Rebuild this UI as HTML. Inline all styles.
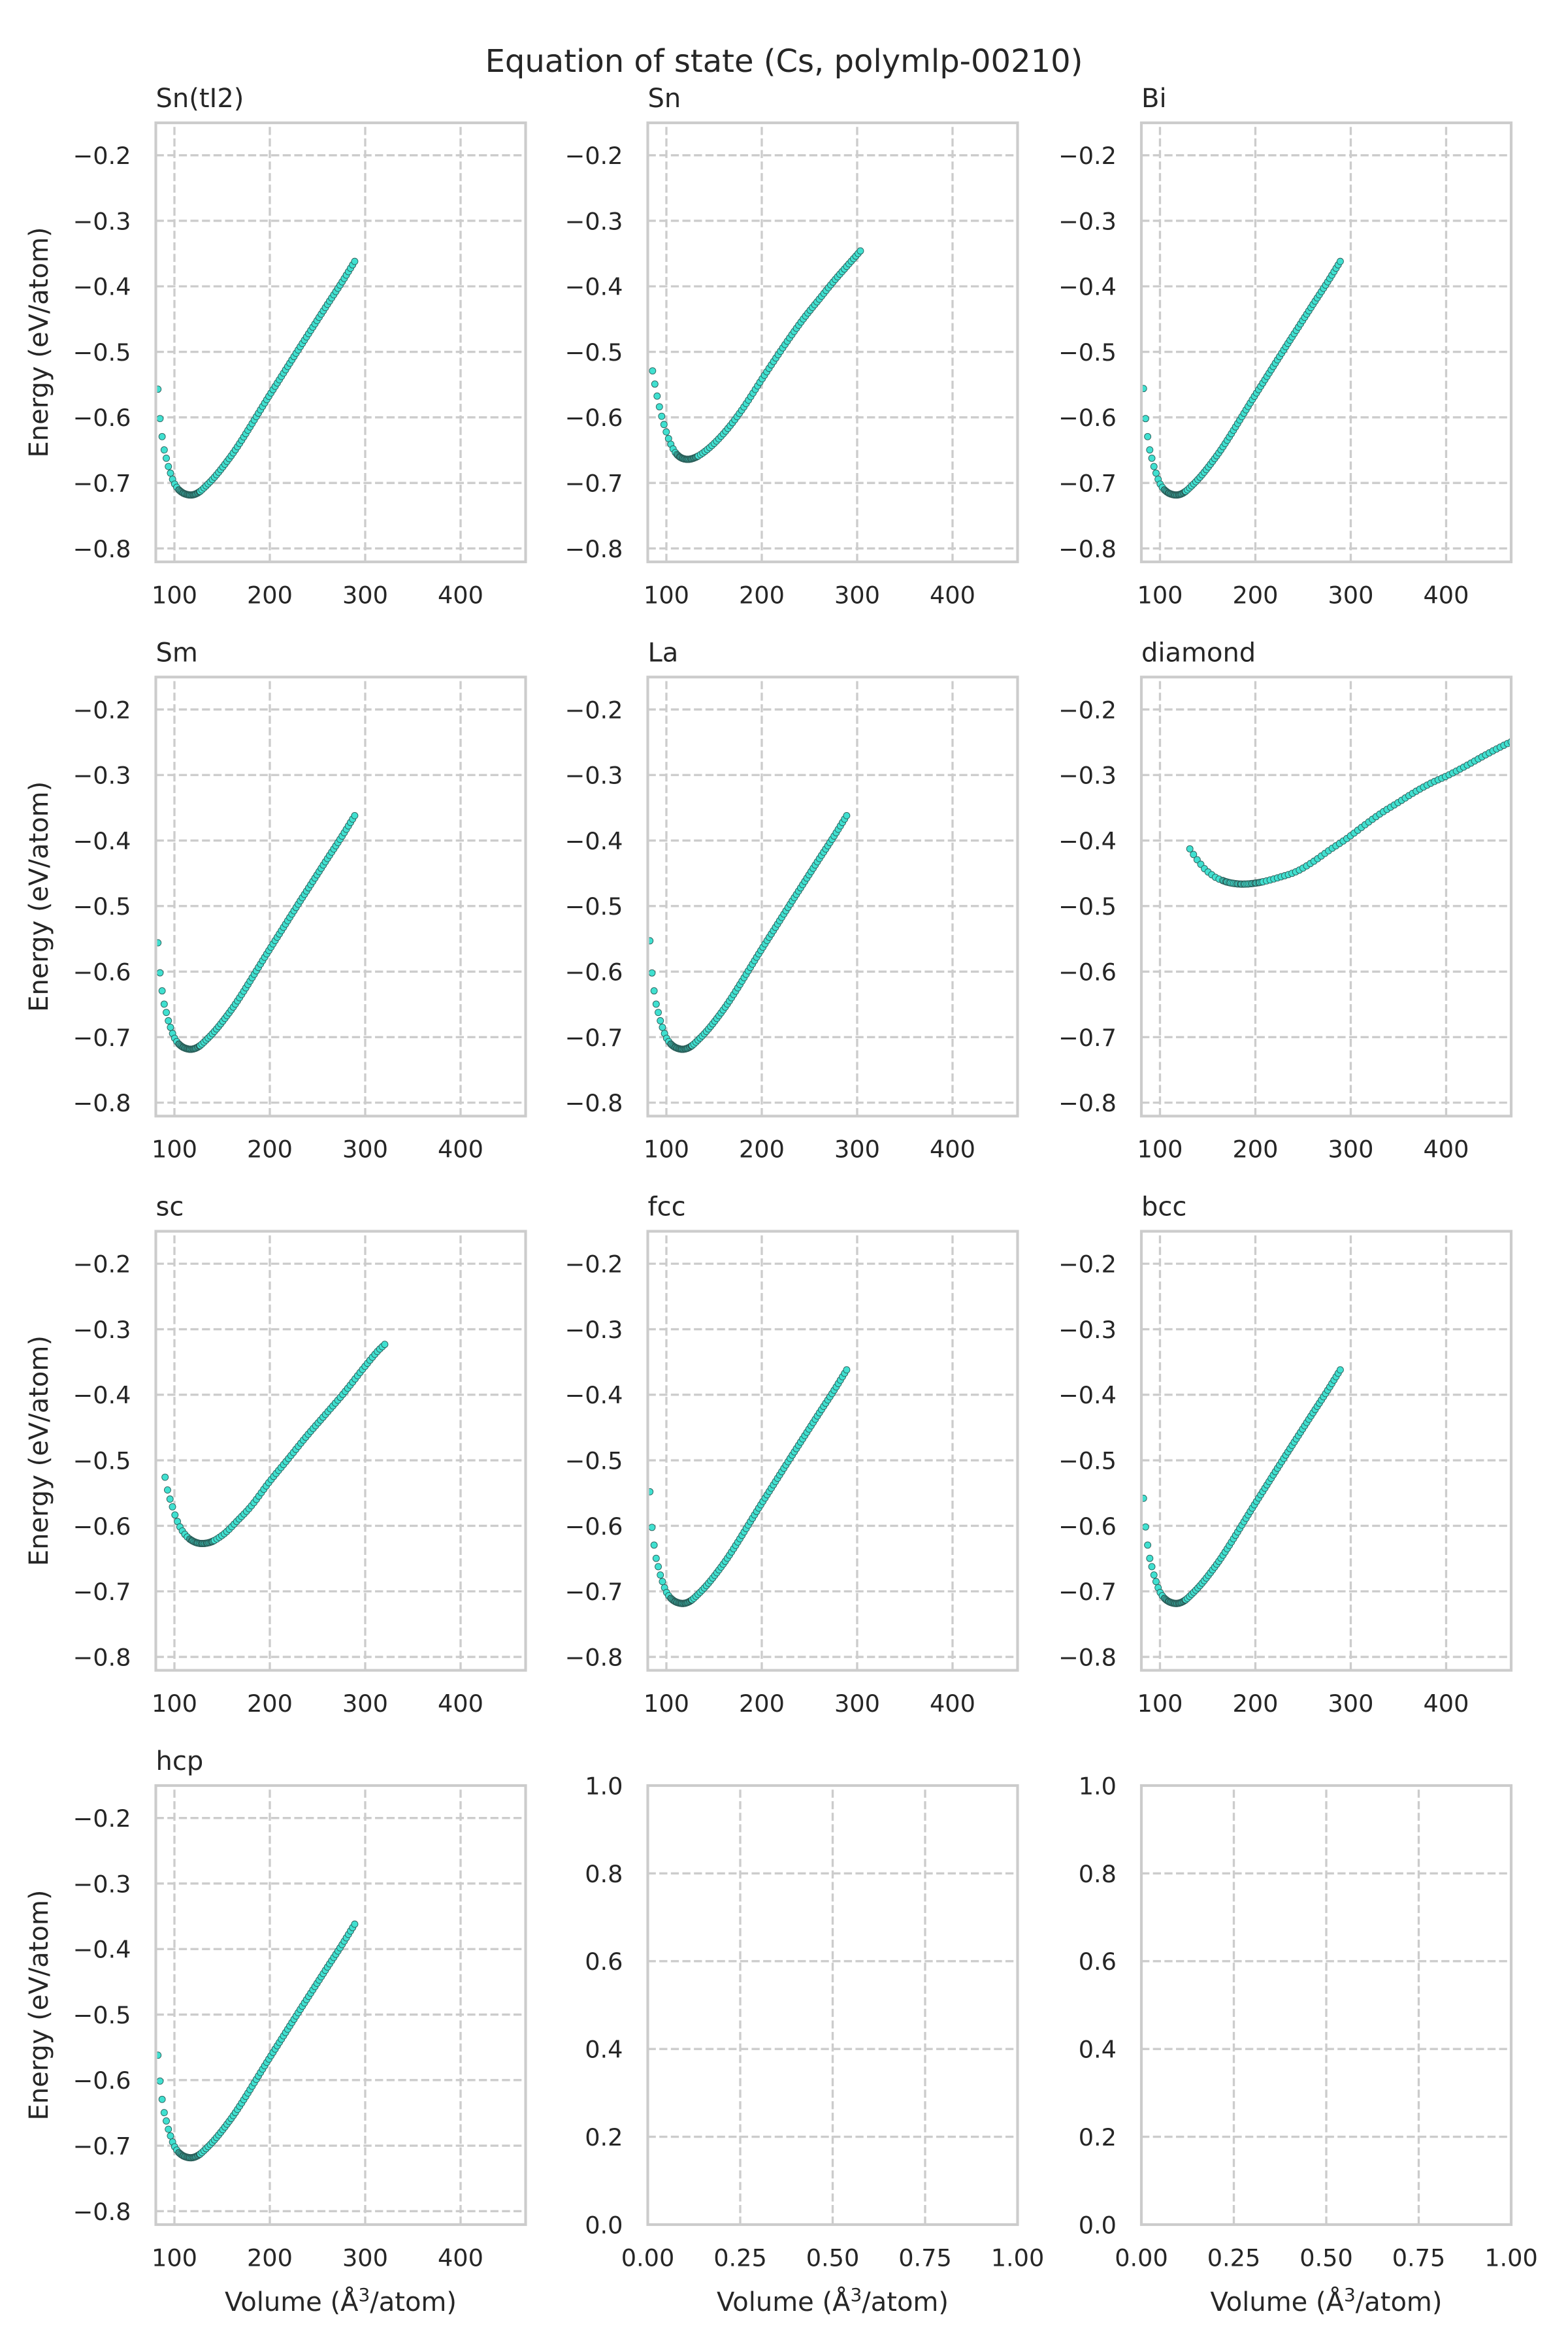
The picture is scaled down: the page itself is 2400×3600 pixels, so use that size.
<!DOCTYPE html>
<html>
<head>
<meta charset="utf-8">
<style>
html,body{margin:0;padding:0;background:#ffffff;}
svg{display:block;}
text{font-family:"DejaVu Sans","Liberation Sans",sans-serif;fill:#262626;}
.tk{font-size:36.67px;}
.lb{font-size:40px;}
.st{font-size:48px;}
.ya text{text-anchor:end;}
.xa text{text-anchor:middle;}
</style>
</head>
<body>
<svg xmlns="http://www.w3.org/2000/svg" xmlns:xlink="http://www.w3.org/1999/xlink" width="2400" height="3600" viewBox="0 0 2400 3600">
<defs>
<clipPath id="clip"><rect x="0" y="0" width="566" height="672"/></clipPath>
<g id="gE" stroke="#cccccc" stroke-width="3.33" stroke-dasharray="12.33 5.33" fill="none">
<path d="M28.47 672V0M174.47 672V0M320.47 672V0M466.47 672V0"/>
<path d="M0 49.65H566M0 149.95H566M0 250.25H566M0 350.55H566M0 450.85H566M0 551.15H566M0 651.45H566"/>
</g>
<g id="gU" stroke="#cccccc" stroke-width="3.33" stroke-dasharray="12.33 5.33" fill="none">
<path d="M141.5 672V0M283 672V0M424.5 672V0"/>
<path d="M0 134.4H566M0 268.8H566M0 403.2H566M0 537.6H566"/>
</g>
</defs>
<rect x="0" y="0" width="2400" height="3600" fill="#ffffff"/>

<text class="st" x="1200" y="110" text-anchor="middle">Equation of state (Cs, polymlp-00210)</text>

<!-- Row 1 -->
<g transform="translate(238.5,188)">
<rect width="566" height="672" fill="#fff"/>
<use xlink:href="#gE"/>
<g id="p1" clip-path="url(#clip)" fill="#40e0d0" stroke="#2a5e59" stroke-width="0.9"></g>
<rect width="566" height="672" fill="none" stroke="#cccccc" stroke-width="4.17"/>
<text class="lb" x="0" y="-24">Sn(tI2)</text>
<g class="tk ya"><text x="-38" y="63">−0.2</text><text x="-38" y="163.3">−0.3</text><text x="-38" y="263.6">−0.4</text><text x="-38" y="363.9">−0.5</text><text x="-38" y="464.2">−0.6</text><text x="-38" y="564.5">−0.7</text><text x="-38" y="664.8">−0.8</text></g>
<g class="tk xa"><text x="28.47" y="735.4">100</text><text x="174.47" y="735.4">200</text><text x="320.47" y="735.4">300</text><text x="466.47" y="735.4">400</text></g>
<text class="lb" transform="translate(-165.5,336) rotate(-90)" text-anchor="middle">Energy (eV/atom)</text>
</g>

<g transform="translate(991.5,188)">
<rect width="566" height="672" fill="#fff"/>
<use xlink:href="#gE"/>
<g id="p2" clip-path="url(#clip)" fill="#40e0d0" stroke="#2a5e59" stroke-width="0.9"></g>
<rect width="566" height="672" fill="none" stroke="#cccccc" stroke-width="4.17"/>
<text class="lb" x="0" y="-24">Sn</text>
<g class="tk ya"><text x="-38" y="63">−0.2</text><text x="-38" y="163.3">−0.3</text><text x="-38" y="263.6">−0.4</text><text x="-38" y="363.9">−0.5</text><text x="-38" y="464.2">−0.6</text><text x="-38" y="564.5">−0.7</text><text x="-38" y="664.8">−0.8</text></g>
<g class="tk xa"><text x="28.47" y="735.4">100</text><text x="174.47" y="735.4">200</text><text x="320.47" y="735.4">300</text><text x="466.47" y="735.4">400</text></g>
</g>

<g transform="translate(1747,188)">
<rect width="566" height="672" fill="#fff"/>
<use xlink:href="#gE"/>
<g id="p3" clip-path="url(#clip)" fill="#40e0d0" stroke="#2a5e59" stroke-width="0.9"></g>
<rect width="566" height="672" fill="none" stroke="#cccccc" stroke-width="4.17"/>
<text class="lb" x="0" y="-24">Bi</text>
<g class="tk ya"><text x="-38" y="63">−0.2</text><text x="-38" y="163.3">−0.3</text><text x="-38" y="263.6">−0.4</text><text x="-38" y="363.9">−0.5</text><text x="-38" y="464.2">−0.6</text><text x="-38" y="564.5">−0.7</text><text x="-38" y="664.8">−0.8</text></g>
<g class="tk xa"><text x="28.47" y="735.4">100</text><text x="174.47" y="735.4">200</text><text x="320.47" y="735.4">300</text><text x="466.47" y="735.4">400</text></g>
</g>

<!-- Row 2 -->
<g transform="translate(238.5,1036.3)">
<rect width="566" height="672" fill="#fff"/>
<use xlink:href="#gE"/>
<g id="p4" clip-path="url(#clip)" fill="#40e0d0" stroke="#2a5e59" stroke-width="0.9"></g>
<rect width="566" height="672" fill="none" stroke="#cccccc" stroke-width="4.17"/>
<text class="lb" x="0" y="-24">Sm</text>
<g class="tk ya"><text x="-38" y="63">−0.2</text><text x="-38" y="163.3">−0.3</text><text x="-38" y="263.6">−0.4</text><text x="-38" y="363.9">−0.5</text><text x="-38" y="464.2">−0.6</text><text x="-38" y="564.5">−0.7</text><text x="-38" y="664.8">−0.8</text></g>
<g class="tk xa"><text x="28.47" y="735.4">100</text><text x="174.47" y="735.4">200</text><text x="320.47" y="735.4">300</text><text x="466.47" y="735.4">400</text></g>
<text class="lb" transform="translate(-165.5,336) rotate(-90)" text-anchor="middle">Energy (eV/atom)</text>
</g>

<g transform="translate(991.5,1036.3)">
<rect width="566" height="672" fill="#fff"/>
<use xlink:href="#gE"/>
<g id="p5" clip-path="url(#clip)" fill="#40e0d0" stroke="#2a5e59" stroke-width="0.9"></g>
<rect width="566" height="672" fill="none" stroke="#cccccc" stroke-width="4.17"/>
<text class="lb" x="0" y="-24">La</text>
<g class="tk ya"><text x="-38" y="63">−0.2</text><text x="-38" y="163.3">−0.3</text><text x="-38" y="263.6">−0.4</text><text x="-38" y="363.9">−0.5</text><text x="-38" y="464.2">−0.6</text><text x="-38" y="564.5">−0.7</text><text x="-38" y="664.8">−0.8</text></g>
<g class="tk xa"><text x="28.47" y="735.4">100</text><text x="174.47" y="735.4">200</text><text x="320.47" y="735.4">300</text><text x="466.47" y="735.4">400</text></g>
</g>

<g transform="translate(1747,1036.3)">
<rect width="566" height="672" fill="#fff"/>
<use xlink:href="#gE"/>
<g id="p6" clip-path="url(#clip)" fill="#40e0d0" stroke="#2a5e59" stroke-width="0.9"></g>
<rect width="566" height="672" fill="none" stroke="#cccccc" stroke-width="4.17"/>
<text class="lb" x="0" y="-24">diamond</text>
<g class="tk ya"><text x="-38" y="63">−0.2</text><text x="-38" y="163.3">−0.3</text><text x="-38" y="263.6">−0.4</text><text x="-38" y="363.9">−0.5</text><text x="-38" y="464.2">−0.6</text><text x="-38" y="564.5">−0.7</text><text x="-38" y="664.8">−0.8</text></g>
<g class="tk xa"><text x="28.47" y="735.4">100</text><text x="174.47" y="735.4">200</text><text x="320.47" y="735.4">300</text><text x="466.47" y="735.4">400</text></g>
</g>

<!-- Row 3 -->
<g transform="translate(238.5,1884.6)">
<rect width="566" height="672" fill="#fff"/>
<use xlink:href="#gE"/>
<g id="p7" clip-path="url(#clip)" fill="#40e0d0" stroke="#2a5e59" stroke-width="0.9"></g>
<rect width="566" height="672" fill="none" stroke="#cccccc" stroke-width="4.17"/>
<text class="lb" x="0" y="-24">sc</text>
<g class="tk ya"><text x="-38" y="63">−0.2</text><text x="-38" y="163.3">−0.3</text><text x="-38" y="263.6">−0.4</text><text x="-38" y="363.9">−0.5</text><text x="-38" y="464.2">−0.6</text><text x="-38" y="564.5">−0.7</text><text x="-38" y="664.8">−0.8</text></g>
<g class="tk xa"><text x="28.47" y="735.4">100</text><text x="174.47" y="735.4">200</text><text x="320.47" y="735.4">300</text><text x="466.47" y="735.4">400</text></g>
<text class="lb" transform="translate(-165.5,336) rotate(-90)" text-anchor="middle">Energy (eV/atom)</text>
</g>

<g transform="translate(991.5,1884.6)">
<rect width="566" height="672" fill="#fff"/>
<use xlink:href="#gE"/>
<g id="p8" clip-path="url(#clip)" fill="#40e0d0" stroke="#2a5e59" stroke-width="0.9"></g>
<rect width="566" height="672" fill="none" stroke="#cccccc" stroke-width="4.17"/>
<text class="lb" x="0" y="-24">fcc</text>
<g class="tk ya"><text x="-38" y="63">−0.2</text><text x="-38" y="163.3">−0.3</text><text x="-38" y="263.6">−0.4</text><text x="-38" y="363.9">−0.5</text><text x="-38" y="464.2">−0.6</text><text x="-38" y="564.5">−0.7</text><text x="-38" y="664.8">−0.8</text></g>
<g class="tk xa"><text x="28.47" y="735.4">100</text><text x="174.47" y="735.4">200</text><text x="320.47" y="735.4">300</text><text x="466.47" y="735.4">400</text></g>
</g>

<g transform="translate(1747,1884.6)">
<rect width="566" height="672" fill="#fff"/>
<use xlink:href="#gE"/>
<g id="p9" clip-path="url(#clip)" fill="#40e0d0" stroke="#2a5e59" stroke-width="0.9"></g>
<rect width="566" height="672" fill="none" stroke="#cccccc" stroke-width="4.17"/>
<text class="lb" x="0" y="-24">bcc</text>
<g class="tk ya"><text x="-38" y="63">−0.2</text><text x="-38" y="163.3">−0.3</text><text x="-38" y="263.6">−0.4</text><text x="-38" y="363.9">−0.5</text><text x="-38" y="464.2">−0.6</text><text x="-38" y="564.5">−0.7</text><text x="-38" y="664.8">−0.8</text></g>
<g class="tk xa"><text x="28.47" y="735.4">100</text><text x="174.47" y="735.4">200</text><text x="320.47" y="735.4">300</text><text x="466.47" y="735.4">400</text></g>
</g>

<!-- Row 4 -->
<g transform="translate(238.5,2733)">
<rect width="566" height="672" fill="#fff"/>
<use xlink:href="#gE"/>
<g id="p10" clip-path="url(#clip)" fill="#40e0d0" stroke="#2a5e59" stroke-width="0.9"></g>
<rect width="566" height="672" fill="none" stroke="#cccccc" stroke-width="4.17"/>
<text class="lb" x="0" y="-24">hcp</text>
<g class="tk ya"><text x="-38" y="63">−0.2</text><text x="-38" y="163.3">−0.3</text><text x="-38" y="263.6">−0.4</text><text x="-38" y="363.9">−0.5</text><text x="-38" y="464.2">−0.6</text><text x="-38" y="564.5">−0.7</text><text x="-38" y="664.8">−0.8</text></g>
<g class="tk xa"><text x="28.47" y="735.4">100</text><text x="174.47" y="735.4">200</text><text x="320.47" y="735.4">300</text><text x="466.47" y="735.4">400</text></g>
<text class="lb" transform="translate(-165.5,336) rotate(-90)" text-anchor="middle">Energy (eV/atom)</text>
<text class="lb" x="283" y="804" text-anchor="middle">Volume (Å<tspan dy="-15" font-size="28">3</tspan><tspan dy="15">/atom)</tspan></text>
</g>

<g transform="translate(991.5,2733)">
<rect width="566" height="672" fill="#fff"/>
<use xlink:href="#gU"/>
<rect width="566" height="672" fill="none" stroke="#cccccc" stroke-width="4.17"/>
<g class="tk ya"><text x="-38" y="13.4">1.0</text><text x="-38" y="147.8">0.8</text><text x="-38" y="282.2">0.6</text><text x="-38" y="416.6">0.4</text><text x="-38" y="551">0.2</text><text x="-38" y="685.4">0.0</text></g>
<g class="tk xa"><text x="0" y="735.4">0.00</text><text x="141.5" y="735.4">0.25</text><text x="283" y="735.4">0.50</text><text x="424.5" y="735.4">0.75</text><text x="566" y="735.4">1.00</text></g>
<text class="lb" x="283" y="804" text-anchor="middle">Volume (Å<tspan dy="-15" font-size="28">3</tspan><tspan dy="15">/atom)</tspan></text>
</g>

<g transform="translate(1747,2733)">
<rect width="566" height="672" fill="#fff"/>
<use xlink:href="#gU"/>
<rect width="566" height="672" fill="none" stroke="#cccccc" stroke-width="4.17"/>
<g class="tk ya"><text x="-38" y="13.4">1.0</text><text x="-38" y="147.8">0.8</text><text x="-38" y="282.2">0.6</text><text x="-38" y="416.6">0.4</text><text x="-38" y="551">0.2</text><text x="-38" y="685.4">0.0</text></g>
<g class="tk xa"><text x="0" y="735.4">0.00</text><text x="141.5" y="735.4">0.25</text><text x="283" y="735.4">0.50</text><text x="424.5" y="735.4">0.75</text><text x="566" y="735.4">1.00</text></g>
<text class="lb" x="283" y="804" text-anchor="middle">Volume (Å<tspan dy="-15" font-size="28">3</tspan><tspan dy="15">/atom)</tspan></text>
</g>
</svg>

<script>
(function(){
function mk(kn){
  var n=kn.length,m=[];
  for(var i=0;i<n;i++){var a=kn[Math.max(0,i-1)],b=kn[Math.min(n-1,i+1)];m.push((b[1]-a[1])/(b[0]-a[0]));}
  return function(v){
    if(v<=kn[0][0])return kn[0][1]+m[0]*(v-kn[0][0]);
    if(v>=kn[n-1][0])return kn[n-1][1]+m[n-1]*(v-kn[n-1][0]);
    var i=0;while(kn[i+1][0]<v)i++;
    var x0=kn[i][0],x1=kn[i+1][0],h=x1-x0,t=(v-x0)/h,t2=t*t,t3=t2*t;
    return (2*t3-3*t2+1)*kn[i][1]+(t3-2*t2+t)*h*m[i]+(-2*t3+3*t2)*kn[i+1][1]+(t3-t2)*h*m[i+1];
  };
}
function draw(id,kn,v0,v1,n,c0,c1,cn){
  var f=mk(kn),vs=[],i;
  for(i=0;i<n;i++)vs.push(v0+(v1-v0)*i/(n-1));
  for(i=0;i<cn;i++)vs.push(c0+(c1-c0)*i/(cn-1));
  vs.sort(function(a,b){return a-b;});
  var s="";
  for(i=0;i<vs.length;i++){
    var v=vs[i],x=(v-80.5)*1.46,y=(-0.1505-f(v))*1003;
    s+='<circle cx="'+x.toFixed(2)+'" cy="'+y.toFixed(2)+'" r="5"/>';
  }
  document.getElementById(id).innerHTML=s;
}
function A(e0){
  return [[82.7,e0],[84.5,-0.5955],[86.5,-0.6221],[88.4,-0.6433],[91.1,-0.660],[93.4,-0.6736],[95.9,-0.6852],[98,-0.6942],[100.2,-0.7016],[104,-0.7095],[108,-0.7145],[112,-0.7172],[117,-0.7185],[122,-0.7170],[127,-0.7128],[132,-0.7062],[138,-0.6975],[144,-0.6878],[150,-0.6770],[156,-0.6655],[162,-0.6535],[168,-0.6405],[175,-0.6245],[182,-0.6080],[190,-0.5890],[200,-0.5655],[215,-0.5310],[230,-0.4965],[245,-0.4625],[260,-0.4285],[275,-0.3950],[289,-0.3620]];
}
var SN=[[85.5,-0.529],[88.5,-0.554],[91.5,-0.576],[94.5,-0.595],[97.5,-0.611],[100.5,-0.625],[103.5,-0.637],[107,-0.648],[111,-0.6565],[116,-0.6620],[122,-0.6640],[128,-0.6625],[135,-0.6575],[145,-0.6465],[155,-0.6325],[165,-0.616],[175,-0.597],[185,-0.576],[200,-0.542],[215,-0.509],[230,-0.477],[245,-0.447],[260,-0.420],[275,-0.393],[290,-0.368],[303.4,-0.346]];
var SC=[[90.2,-0.5258],[92.3,-0.5422],[95,-0.5573],[97.9,-0.5707],[100,-0.581],[102.4,-0.5907],[105.5,-0.6009],[108.2,-0.6076],[111.1,-0.6133],[115.8,-0.62],[122.4,-0.6253],[129,-0.6270],[137,-0.6253],[143.6,-0.6209],[154.1,-0.6098],[164.7,-0.5942],[180.5,-0.5698],[199.8,-0.5324],[220.1,-0.4964],[238.6,-0.4631],[259.8,-0.4276],[278.2,-0.3964],[299.4,-0.3573],[312.6,-0.3342],[320.5,-0.3231]];
var DI=[[131.3,-0.4127],[135.6,-0.4223],[139,-0.4294],[143,-0.4366],[146.4,-0.4426],[150.5,-0.448],[154.7,-0.4526],[159.2,-0.457],[164.8,-0.4605],[170.8,-0.4635],[177.8,-0.4655],[186.6,-0.4665],[197.2,-0.4655],[207.6,-0.463],[225.4,-0.456],[243,-0.4473],[260.7,-0.4322],[278.3,-0.414],[295.8,-0.397],[313.4,-0.3776],[331,-0.359],[348.6,-0.343],[366.3,-0.3267],[383.9,-0.3125],[401.2,-0.301],[419,-0.2875],[436.7,-0.273],[454,-0.2594],[472,-0.2465]];
draw("p1",A(-0.557),82.7,289,95,105,127,25);
draw("p2",SN,85.5,303.4,92,111,133,25);
draw("p3",A(-0.556),82.7,289,95,105,127,25);
draw("p4",A(-0.556),82.7,289,95,105,127,25);
draw("p5",A(-0.553),82.7,289,95,105,127,25);
draw("p6",DI,131.3,472,90,167,208,25);
draw("p7",SC,90.2,320.5,90,116,141,25);
draw("p8",A(-0.548),82.7,289,95,105,127,25);
draw("p9",A(-0.558),82.7,289,95,105,127,25);
draw("p10",A(-0.562),82.7,289,95,105,127,25);
})();
</script>
</body>
</html>
